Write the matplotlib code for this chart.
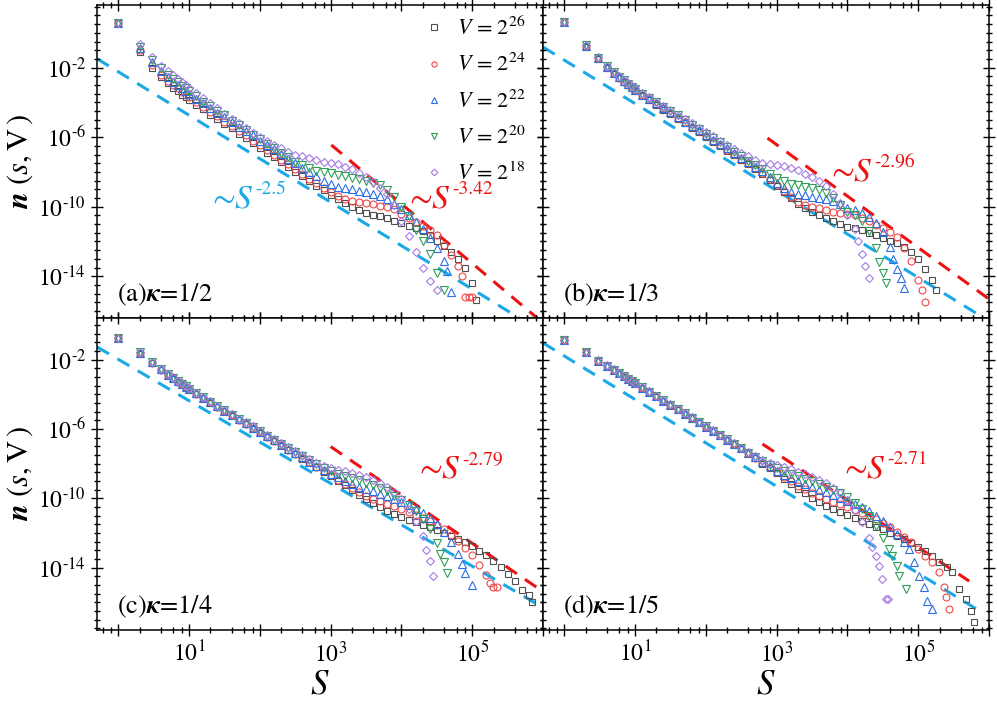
import numpy as np
import matplotlib
matplotlib.use("Agg")
import matplotlib.pyplot as plt
from matplotlib.ticker import FixedLocator, FuncFormatter, NullFormatter

plt.rcParams['font.family'] = 'STIXGeneral'
plt.rcParams['mathtext.fontset'] = 'stix'

# log10(s): s = 1..10, then log bins every 0.1 decade
LOG_S = [0.0, 0.301, 0.477, 0.602, 0.699, 0.778, 0.845, 0.903, 0.954, 1.0,
         1.1, 1.2, 1.3, 1.4, 1.5, 1.6, 1.7, 1.8, 1.9, 2.0,
         2.1, 2.2, 2.3, 2.4, 2.5, 2.6, 2.7, 2.8, 2.9, 3.0,
         3.1, 3.2, 3.3, 3.4, 3.5, 3.6, 3.7, 3.8, 3.9, 4.0,
         4.1, 4.2, 4.3, 4.4, 4.5, 4.6, 4.7, 4.8, 4.9, 5.0,
         5.1, 5.2, 5.3, 5.4, 5.5, 5.6, 5.7]

# log10 n(s,V), (a) kappa = 1/2
a_26 = [0.56, -1.1, -2.0, -2.55, -2.9, -3.15, -3.35, -3.55, -3.7, -3.85,
        -4.15, -4.4, -4.7, -4.95, -5.25, -5.5, -5.8, -6.05, -6.35, -6.6,
        -6.9, -7.15, -7.45, -7.7, -8.0, -8.25, -8.5, -8.8, -9.05, -9.3,
        -9.55, -9.8, -10.0, -10.2, -10.35, -10.45, -10.55, -10.65, -10.8, -10.95,
        -11.1, -11.25, -11.4, -11.65, -11.95, -12.25, -12.6, -13.0, -13.5, -14.4]
a_26_tail = [(5.05, -15.35)]
a_24 = [0.56, -1.0, -1.85, -2.4, -2.75, -3.0, -3.2, -3.4, -3.55, -3.7,
        -3.98, -4.25, -4.55, -4.8, -5.1, -5.35, -5.65, -5.9, -6.2, -6.45,
        -6.75, -7.0, -7.3, -7.55, -7.85, -8.1, -8.4, -8.65, -8.9, -9.15,
        -9.4, -9.55, -9.65, -9.73, -9.8, -9.87, -9.95, -10.03, -10.15, -10.4,
        -10.65, -10.9, -11.1, -11.35, -11.65, -12.2, -12.8, -13.4]
a_24_tail = [(4.85, -14.0), (4.9, -15.2), (4.95, -15.2), (5.0, -15.2)]
a_22 = [0.56, -0.9, -1.7, -2.2, -2.55, -2.8, -3.0, -3.2, -3.35, -3.5,
        -3.8, -4.05, -4.35, -4.6, -4.85, -5.15, -5.4, -5.65, -5.9, -6.2,
        -6.45, -6.7, -6.95, -7.25, -7.5, -7.75, -8.0, -8.25, -8.5, -8.72,
        -8.85, -8.92, -9.0, -9.1, -9.18, -9.27, -9.37, -9.55, -9.85, -10.15,
        -10.5, -10.9, -11.3, -11.8, -12.4, -13.1]
a_22_tail = [(4.65, -13.7), (4.7, -14.9)]
a_20 = [0.56, -0.8, -1.55, -2.05, -2.4, -2.65, -2.85, -3.05, -3.2, -3.35,
        -3.65, -3.95, -4.2, -4.5, -4.75, -5.05, -5.3, -5.6, -5.85, -6.1,
        -6.4, -6.65, -6.9, -7.15, -7.4, -7.6, -7.8, -7.93, -8.0, -8.07,
        -8.15, -8.25, -8.35, -8.43, -8.52, -8.63, -8.78, -9.05, -9.45, -10.0,
        -10.55, -11.35, -12.0, -12.7, -13.8, -14.8]
a_20_tail = []
a_18 = [0.56, -0.65, -1.4, -1.9, -2.2, -2.45, -2.65, -2.85, -3.0, -3.15,
        -3.45, -3.75, -4.05, -4.35, -4.65, -4.95, -5.2, -5.5, -5.75, -6.0,
        -6.2, -6.45, -6.65, -6.85, -7.0, -7.1, -7.2, -7.3, -7.4, -7.47,
        -7.57, -7.7, -7.85, -8.05, -8.3, -8.6, -8.9, -9.25, -9.9, -10.8,
        -11.7, -12.6, -13.5, -14.3, -14.8]
a_18_tail = []

# (b) kappa = 1/3
b_26 = [0.62, -0.8, -1.5, -2.0, -2.35, -2.61, -2.83, -3.01, -3.18, -3.35,
        -3.62, -3.88, -4.15, -4.41, -4.68, -4.94, -5.2, -5.46, -5.72, -5.99,
        -6.25, -6.52, -6.78, -7.05, -7.31, -7.57, -7.84, -8.1, -8.45, -8.8,
        -9.15, -9.5, -9.85, -10.1, -10.3, -10.5, -10.65, -10.85, -11.0, -11.15,
        -11.25, -11.35, -11.5, -11.65, -11.8, -11.95, -12.1, -12.3, -12.6, -13.0,
        -13.6, -14.2]
b_26_tail = [(5.25, -14.8)]
b_24 = [0.62, -0.77, -1.47, -1.97, -2.32, -2.58, -2.8, -2.98, -3.15, -3.3,
        -3.57, -3.83, -4.1, -4.35, -4.62, -4.88, -5.15, -5.4, -5.67, -5.93,
        -6.2, -6.45, -6.72, -6.98, -7.25, -7.5, -7.78, -8.05, -8.4, -8.75,
        -9.1, -9.45, -9.75, -9.9, -10.0, -10.1, -10.2, -10.3, -10.35, -10.4,
        -10.5, -10.65, -10.85, -11.05, -11.25, -11.45, -11.75, -12.4, -13.1, -14.2]
b_24_tail = [(5.05, -14.8), (5.1, -15.5)]
b_22 = [0.62, -0.75, -1.45, -1.95, -2.3, -2.56, -2.77, -2.96, -3.13, -3.28,
        -3.55, -3.8, -4.05, -4.3, -4.55, -4.85, -5.1, -5.35, -5.6, -5.85,
        -6.15, -6.4, -6.65, -6.9, -7.2, -7.45, -7.7, -7.95, -8.3, -8.65,
        -8.95, -9.15, -9.25, -9.35, -9.43, -9.5, -9.58, -9.68, -9.85, -10.05,
        -10.2, -10.35, -10.6, -10.95, -11.45, -12.3]
b_22_tail = [(4.65, -13.0), (4.7, -13.6), (4.75, -14.1), (4.8, -14.7)]
b_20 = [0.62, -0.72, -1.43, -1.93, -2.28, -2.53, -2.74, -2.93, -3.1, -3.25,
        -3.5, -3.75, -4.0, -4.25, -4.5, -4.75, -5.0, -5.3, -5.55, -5.8,
        -6.05, -6.3, -6.55, -6.85, -7.1, -7.35, -7.6, -7.85, -8.1, -8.35,
        -8.55, -8.68, -8.77, -8.85, -8.92, -9.05, -9.2, -9.5, -9.9, -10.3,
        -10.5, -10.85, -11.4, -12.4]
b_20_tail = [(4.45, -13.2), (4.5, -13.8), (4.55, -14.4)]
b_18 = [0.62, -0.7, -1.4, -1.9, -2.25, -2.5, -2.7, -2.9, -3.05, -3.2,
        -3.45, -3.7, -3.95, -4.2, -4.45, -4.7, -4.95, -5.2, -5.45, -5.7,
        -5.95, -6.2, -6.45, -6.7, -6.9, -7.1, -7.3, -7.5, -7.55, -7.6,
        -7.67, -7.77, -7.9, -8.1, -8.3, -8.5, -8.8, -9.25, -9.8, -10.5,
        -11.3]
b_18_tail = [(4.15, -12.0), (4.2, -12.7), (4.25, -13.4), (4.3, -14.1)]

# (c) kappa = 1/4
c_26 = [-0.75, -1.65, -2.2, -2.6, -2.9, -3.1, -3.3, -3.45, -3.6, -3.73,
        -3.98, -4.23, -4.48, -4.73, -4.98, -5.23, -5.48, -5.73, -5.98, -6.23,
        -6.48, -6.72, -6.97, -7.22, -7.47, -7.72, -7.97, -8.22, -8.47, -8.72,
        -8.98, -9.25, -9.52, -9.8, -10.06, -10.3, -10.52, -10.72, -10.9, -11.07,
        -11.23, -11.38, -11.53, -11.68, -11.83, -11.99, -12.16, -12.35, -12.55, -12.78,
        -13.03, -13.3, -13.6, -13.95, -14.35, -14.8, -15.3]
c_26_tail = [(5.8, -15.6), (5.85, -16.0)]
c_24 = [-0.75, -1.63, -2.18, -2.58, -2.88, -3.08, -3.28, -3.43, -3.58, -3.71,
        -3.96, -4.21, -4.46, -4.71, -4.96, -5.21, -5.46, -5.71, -5.96, -6.2,
        -6.45, -6.7, -6.94, -7.19, -7.44, -7.68, -7.93, -8.18, -8.42, -8.66,
        -8.92, -9.18, -9.42, -9.65, -9.85, -10.02, -10.17, -10.32, -10.47, -10.62,
        -10.78, -10.95, -11.13, -11.32, -11.55, -11.8, -12.1, -12.45, -12.85, -13.3,
        -13.85, -14.4]
c_24_tail = [(5.25, -14.9), (5.3, -15.1), (5.35, -15.1)]
c_22 = [-0.75, -1.61, -2.16, -2.56, -2.86, -3.06, -3.26, -3.41, -3.56, -3.69,
        -3.94, -4.19, -4.44, -4.69, -4.94, -5.19, -5.44, -5.68, -5.93, -6.17,
        -6.42, -6.66, -6.9, -7.15, -7.4, -7.64, -7.88, -8.12, -8.35, -8.58,
        -8.8, -9.0, -9.18, -9.33, -9.47, -9.6, -9.74, -9.88, -10.03, -10.2,
        -10.4, -10.62, -10.87, -11.15, -11.5, -11.95, -12.5, -13.2]
c_22_tail = [(4.85, -13.8), (4.9, -14.3), (5.0, -15.0)]
c_20 = [-0.75, -1.59, -2.14, -2.54, -2.84, -3.04, -3.24, -3.39, -3.54, -3.67,
        -3.92, -4.17, -4.42, -4.67, -4.92, -5.17, -5.42, -5.65, -5.9, -6.13,
        -6.38, -6.62, -6.86, -7.1, -7.35, -7.58, -7.82, -8.05, -8.25, -8.45,
        -8.6, -8.72, -8.85, -8.97, -9.1, -9.25, -9.4, -9.6, -9.85, -10.1,
        -10.4, -10.75, -11.2, -11.8, -12.6]
c_20_tail = [(4.55, -13.2), (4.6, -13.7), (4.65, -14.3)]
c_18 = [-0.75, -1.57, -2.12, -2.52, -2.82, -3.02, -3.22, -3.37, -3.52, -3.65,
        -3.9, -4.15, -4.4, -4.65, -4.9, -5.15, -5.4, -5.62, -5.85, -6.1,
        -6.35, -6.58, -6.82, -7.05, -7.3, -7.52, -7.75, -7.95, -8.12, -8.25,
        -8.35, -8.45, -8.55, -8.65, -8.78, -8.92, -9.1, -9.35, -9.65, -10.05,
        -10.6, -11.3, -12.2]
c_18_tail = [(4.35, -13.0), (4.4, -13.6), (4.45, -14.5)]

# (d) kappa = 1/5
d_26 = [-0.86, -1.58, -2.09, -2.38, -2.61, -2.81, -2.98, -3.13, -3.26, -3.38,
        -3.63, -3.88, -4.13, -4.38, -4.63, -4.88, -5.13, -5.38, -5.63, -5.88,
        -6.13, -6.38, -6.63, -6.88, -7.13, -7.4, -7.7, -8.0, -8.28, -8.57,
        -8.86, -9.15, -9.44, -9.72, -9.98, -10.22, -10.44, -10.64, -10.82, -10.99,
        -11.15, -11.31, -11.47, -11.63, -11.8, -11.98, -12.17, -12.37, -12.58, -12.8,
        -13.05, -13.34, -13.65, -13.95]
d_26_tail = [(5.48, -14.26), (5.58, -15.24), (5.68, -15.82), (5.75, -16.51), (5.79, -17.14)]
d_24 = [-0.86, -1.57, -2.08, -2.37, -2.6, -2.8, -2.97, -3.12, -3.25, -3.37,
        -3.62, -3.87, -4.12, -4.37, -4.62, -4.87, -5.12, -5.37, -5.62, -5.87,
        -6.12, -6.37, -6.62, -6.87, -7.12, -7.38, -7.66, -7.95, -8.22, -8.5,
        -8.77, -9.03, -9.27, -9.49, -9.69, -9.87, -10.04, -10.2, -10.35, -10.5,
        -10.66, -10.83, -11.01, -11.2, -11.42, -11.66, -11.93, -12.22, -12.54, -12.95,
        -13.34]
d_24_tail = [(5.2, -13.69), (5.3, -14.26), (5.37, -15.13), (5.39, -15.7), (5.44, -16.39)]
d_22 = [-0.86, -1.56, -2.07, -2.36, -2.59, -2.79, -2.96, -3.11, -3.24, -3.36,
        -3.61, -3.86, -4.11, -4.36, -4.61, -4.86, -5.11, -5.36, -5.61, -5.86,
        -6.11, -6.36, -6.61, -6.86, -7.11, -7.37, -7.63, -7.9, -8.15, -8.4,
        -8.63, -8.84, -9.03, -9.2, -9.36, -9.51, -9.66, -9.81, -9.97, -10.14,
        -10.32, -10.52, -10.75, -11.0, -11.3, -11.65, -12.05, -12.5]
d_22_tail = [(4.87, -12.94), (4.94, -13.69), (5.01, -14.49), (5.08, -15.13), (5.13, -15.93), (5.2, -16.39)]
d_20 = [-0.86, -1.55, -2.06, -2.35, -2.58, -2.78, -2.95, -3.1, -3.23, -3.35,
        -3.6, -3.85, -4.1, -4.35, -4.6, -4.85, -5.1, -5.35, -5.6, -5.85,
        -6.1, -6.35, -6.6, -6.85, -7.1, -7.36, -7.6, -7.85, -8.07, -8.27,
        -8.45, -8.6, -8.74, -8.88, -9.02, -9.17, -9.33, -9.5, -9.7, -9.95,
        -10.25, -10.6, -11.05, -11.6, -12.3]
d_20_tail = [(4.59, -12.94), (4.63, -13.34), (4.7, -13.92), (4.73, -14.49), (4.83, -15.24)]
d_18 = [-0.86, -1.54, -2.05, -2.34, -2.57, -2.77, -2.94, -3.09, -3.22, -3.34,
        -3.59, -3.84, -4.09, -4.34, -4.59, -4.84, -5.09, -5.34, -5.59, -5.84,
        -6.09, -6.34, -6.59, -6.84, -7.09, -7.34, -7.57, -7.78, -7.95, -8.1,
        -8.22, -8.34, -8.47, -8.6, -8.75, -8.92, -9.12, -9.38, -9.7, -10.1,
        -10.65, -11.35, -12.3]
d_18_tail = [(4.34, -12.83), (4.41, -13.34), (4.45, -13.92), (4.49, -14.67), (4.55, -15.82), (4.57, -15.82)]

# guide lines: (log s start, log s end), (log n start, log n end)
a_blue_guide = ([-0.3, 5.66], [-1.49, -16.39])
a_red_guide = ([3.01, 5.92], [-6.45, -16.41])
b_blue_guide = ([-0.3, 5.85], [-0.82, -16.2])
b_red_guide = ([2.87, 5.99], [-6.05, -15.28])
c_blue_guide = ([-0.3, 5.94], [-1.27, -16.16])
c_red_guide = ([3.0, 5.94], [-7.02, -15.22])
d_blue_guide = ([-0.3, 5.89], [-1.04, -16.56])
d_red_guide = ([2.8, 5.72], [-6.87, -14.78])

V_LABELS = ['26', '24', '22', '20', '18']
COLORS = ['#505050', '#f04848', '#2a6fe6', '#2f9e58', '#a47ae4']
MARKERS = ['s', 'o', '^', 'v', 'D']
MSIZES = [5.0, 5.0, 5.5, 5.5, 4.5]
LINE_BLUE = '#1ba8e6'
LINE_RED = '#ee1111'

W, H = 997, 703
fig = plt.figure(figsize=(W / 100, H / 100), dpi=100)


def px_axes(x0, y0, x1, y1):
    return fig.add_axes([x0 / W, 1 - y1 / H, (x1 - x0) / W, (y1 - y0) / H])


def power_label(ax, x, y, expo, color):
    # "~S" followed by a small raised exponent placed right after it
    t = ax.text(x, y, '\u223c' + r'$S$', color=color, fontsize=24, transform=ax.transAxes,
                ha='left', va='center')
    ax.annotate(expo, xy=(1.0, 0.86), xycoords=t, xytext=(1, 0), textcoords='offset points',
                color=color, fontsize=14, ha='left', va='center')


def pow10(v, p):
    k = int(round(np.log10(v)))
    return r'$10^{\text{%d}}$' % k


ax_a = px_axes(97, 5, 543, 318)
ax_b = px_axes(543, 5, 989, 318)
ax_c = px_axes(97, 318, 543, 630)
ax_d = px_axes(543, 318, 989, 630)

panels = [
    (ax_a, [a_26, a_24, a_22, a_20, a_18], [a_26_tail, a_24_tail, a_22_tail, a_20_tail, a_18_tail],
     a_blue_guide, a_red_guide, '(a)', '1/2', (-16.4, 1.6)),
    (ax_b, [b_26, b_24, b_22, b_20, b_18], [b_26_tail, b_24_tail, b_22_tail, b_20_tail, b_18_tail],
     b_blue_guide, b_red_guide, '(b)', '1/3', (-16.4, 1.6)),
    (ax_c, [c_26, c_24, c_22, c_20, c_18], [c_26_tail, c_24_tail, c_22_tail, c_20_tail, c_18_tail],
     c_blue_guide, c_red_guide, '(c)', '1/4', (-17.6, 0.4)),
    (ax_d, [d_26, d_24, d_22, d_20, d_18], [d_26_tail, d_24_tail, d_22_tail, d_20_tail, d_18_tail],
     d_blue_guide, d_red_guide, '(d)', '1/5', (-17.6, 0.4)),
]

for ax, series, tails, bg, rg, tag, kap, ylog in panels:
    for ln, tail, c, m, ms, vl in zip(series, tails, COLORS, MARKERS, MSIZES, V_LABELS):
        xs = list(LOG_S[:len(ln)]) + [p[0] for p in tail]
        ys = list(ln) + [p[1] for p in tail]
        ax.plot(10 ** np.array(xs), 10 ** np.array(ys), ls='none', marker=m, ms=ms,
                mfc='none', mec=c, mew=0.8, label=r'$V$ = 2$^{%s}$' % vl)
    ax.plot(10 ** np.array(bg[0]), 10 ** np.array(bg[1]), color=LINE_BLUE, lw=2.2,
            dashes=(4.5, 3.2), zorder=1)
    ax.plot(10 ** np.array(rg[0]), 10 ** np.array(rg[1]), color=LINE_RED, lw=2.2,
            dashes=(4.5, 3.2), zorder=1)
    ax.set_xscale('log')
    ax.set_yscale('log')
    ax.set_xlim(0.5, 1e6)
    ax.set_ylim(10 ** ylog[0], 10 ** ylog[1])
    ax.xaxis.set_major_locator(FixedLocator([10.0 ** k for k in range(0, 7)]))
    ax.xaxis.set_minor_locator(FixedLocator([m * 10.0 ** k for k in range(-1, 6) for m in (2, 4, 6, 8)]))
    ax.xaxis.set_major_formatter(FuncFormatter(
        lambda v, p: pow10(v, p) if round(np.log10(v)) % 2 == 1 else ''))
    ax.xaxis.set_minor_formatter(NullFormatter())
    ax.yaxis.set_major_locator(FixedLocator([1e-2, 1e-6, 1e-10, 1e-14]))
    ax.yaxis.set_minor_locator(FixedLocator([10.0 ** (k / 2) for k in range(-36, 4)]))
    ax.yaxis.set_major_formatter(FuncFormatter(pow10))
    ax.yaxis.set_minor_formatter(NullFormatter())
    ax.tick_params(which='both', direction='inout', top=True, right=True, width=1.0)
    ax.tick_params(which='major', length=9, labelsize=17)
    ax.tick_params(which='minor', length=5)
    for sp in ax.spines.values():
        sp.set_linewidth(1.1)
    ax.text(0.045, 0.075, tag + r'$\boldsymbol{\kappa}$=' + kap, transform=ax.transAxes,
            fontsize=19, ha='left', va='center')

for ax in (ax_a, ax_b):
    ax.tick_params(labelbottom=False)
for ax in (ax_b, ax_d):
    ax.tick_params(labelleft=False)

ax_a.legend(loc='upper left', bbox_to_anchor=(0.71, 0.99), frameon=False, fontsize=16,
            markerscale=0.75, handlelength=1.0, handletextpad=0.55, labelspacing=0.62,
            borderaxespad=0.0)

power_label(ax_a, 0.258, 0.377, '-2.5', LINE_BLUE)
power_label(ax_a, 0.700, 0.377, '-3.42', LINE_RED)
power_label(ax_b, 0.646, 0.463, '-2.96', LINE_RED)
power_label(ax_c, 0.722, 0.513, '-2.79', LINE_RED)
power_label(ax_d, 0.675, 0.513, '-2.71', LINE_RED)

for ax in (ax_a, ax_c):
    ax.set_ylabel(r'$\boldsymbol{n}\ (s,\mathrm{V}\,)$', fontsize=22)
    ax.yaxis.set_label_coords(-0.14, 0.5)
for ax in (ax_c, ax_d):
    ax.set_xlabel(r'$S$', fontsize=25, labelpad=2)

fig.savefig('out.png', dpi=100)
